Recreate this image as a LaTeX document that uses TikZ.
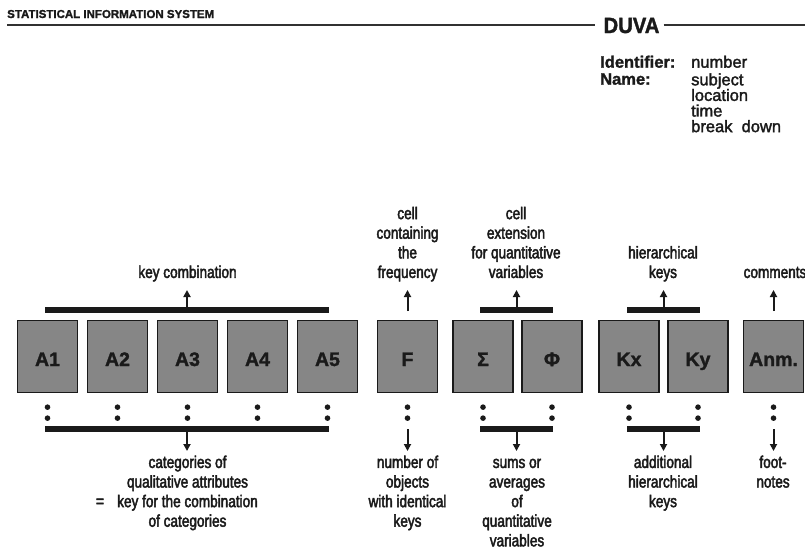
\documentclass[tikz,border=0pt]{standalone}
\usepackage{fontspec}
\setmainfont{Liberation Sans}
\newfontfamily\condfont{Liberation Sans}[FakeStretch=0.8,FakeBold=2.5]
\newfontfamily\plainfont{Liberation Sans}[FakeBold=2]
\newfontfamily\heavyfont{Liberation Sans}[FakeBold=1.5]
\newfontfamily\duvafont{Liberation Sans}[FakeStretch=0.92,FakeBold=1.5]
\usetikzlibrary{arrows.meta}
\definecolor{ink}{HTML}{1A1A1A}
\definecolor{boxgray}{HTML}{868686}
\begin{document}
\begin{tikzpicture}[x=1pt,y=-1pt,
  cellbox/.style={draw=ink, line width=1.3pt, fill=boxgray, minimum width=60pt, minimum height=72pt,
    inner sep=0pt, text height=19pt, text depth=0pt, text=ink,
    font=\heavyfont\bfseries\fontsize{19.5}{20}\selectfont},
  lbl/.style={font=\condfont\fontsize{17}{19.6}\selectfont, align=center, inner sep=0pt, text=ink},
  barbox/.style={fill=ink, inner sep=0pt, minimum height=6pt},
  arr/.style={line width=2pt, draw=ink, -{Triangle[width=7pt,length=7pt]}},
  rule/.style={line width=1.3pt, draw=ink!90},
  dotmark/.style={fill=ink}]
\useasboundingbox[fill=white] (0,0) rectangle (805,549);

% header
\node[anchor=base west, inner sep=0pt, text=ink, font=\heavyfont\bfseries\fontsize{11.5}{12}\selectfont] (hdr) at (7,18) {STATISTICAL INFORMATION SYSTEM};
\node[anchor=base, inner sep=0pt, text=ink, font=\duvafont\bfseries\fontsize{22}{22}\selectfont] (duva) at (631.5,33) {DUVA};
\coordinate (hl) at (7,25);
\coordinate (hr) at (805,25);
\draw[rule, shorten >=8pt] (hl) -- (hl -| duva.west);
\draw[rule, shorten <=4pt] (hl -| duva.east) -- (hr);

% identifier block
\node[anchor=north west, inner sep=0pt, align=left, text=ink, font=\heavyfont\bfseries\fontsize{16.5}{15.6}\selectfont] (idl) at (600,55.5) {\strut Identifier:\\Name:};
\node[anchor=north west, inner sep=0pt, align=left, text=ink, font=\plainfont\fontsize{16.5}{15.6}\selectfont] (idv) at (691,55.5) {\strut number\\subject\\location\\time\\break\ \ down};

% cells
\node[cellbox] (A1) at (47.5,356.5) {A1};
\node[cellbox] (A2) at (117.5,356.5) {A2};
\node[cellbox] (A3) at (187.5,356.5) {A3};
\node[cellbox] (A4) at (257.5,356.5) {A4};
\node[cellbox] (A5) at (327.5,356.5) {A5};
\node[cellbox] (F) at (407.5,356.5) {F};
\node[cellbox] (S) at (483,356.5) {Σ};
\node[cellbox] (P) at (552,356.5) {Φ};
\node[cellbox] (Kx) at (629,356.5) {Kx};
\node[cellbox] (Ky) at (698,356.5) {Ky};
\node[cellbox] (An) at (773.5,356.5) {Anm.};

% dots
\foreach \c in {A1,A2,A3,A4,A5,F,S,P,Kx,Ky,An}{
  \fill[dotmark] (\c.south) ++(0,14) circle (2.8pt);
  \fill[dotmark] (\c.south) ++(0,25) circle (2.8pt);
}

% upper bars and arrows
\node[barbox, minimum width=284pt] (barAu) at (187,310) {};
\node[barbox, minimum width=73pt] (barSu) at (516.5,310) {};
\node[barbox, minimum width=73pt] (barKu) at (663.5,310) {};
\coordinate (tipA) at (187,290);
\coordinate (tipS) at (516.5,290);
\coordinate (tipK) at (663.5,290);
\coordinate (baseF) at (407.5,311);
\coordinate (tipF) at (407.5,290);
\coordinate (baseN) at (773.5,311);
\coordinate (tipN) at (773.5,290);
\draw[arr] (barAu.north) -- (tipA);
\draw[arr] (barSu.north) -- (tipS);
\draw[arr] (barKu.north) -- (tipK);
\draw[arr] (baseF) -- (tipF);
\draw[arr] (baseN) -- (tipN);

% lower bars and arrows
\node[barbox, minimum width=284pt] (barAl) at (187,429) {};
\node[barbox, minimum width=73pt] (barSl) at (516.5,429) {};
\node[barbox, minimum width=73pt] (barKl) at (663.5,429) {};
\coordinate (ltipA) at (187,451);
\coordinate (ltipS) at (516.5,451);
\coordinate (ltipK) at (663.5,451);
\coordinate (lbaseF) at (407.5,429);
\coordinate (ltipF) at (407.5,451);
\coordinate (lbaseN) at (773.5,429);
\coordinate (ltipN) at (773.5,451);
\draw[arr] (barAl.south) -- (ltipA);
\draw[arr] (barSl.south) -- (ltipS);
\draw[arr] (barKl.south) -- (ltipK);
\draw[arr] (lbaseF) -- (ltipF);
\draw[arr] (lbaseN) -- (ltipN);

% upper labels
\node[lbl, anchor=south] (tkc) at (187.5,284) {key combination\strut};
\node[lbl, anchor=south] (tFu) at (407.5,284) {cell\\containing\\the\\frequency\strut};
\node[lbl, anchor=south] (tSu) at (516,284) {cell\\extension\\for quantitative\\variables\strut};
\node[lbl, anchor=south] (tKu) at (663,284) {hierarchical\\keys\strut};
\node[lbl, anchor=south] (tNu) at (775,284) {comments\strut};

% lower labels
\node[lbl, anchor=north] (tAl) at (187.5,454) {\strut categories of\\qualitative attributes\\key for the combination\\of categories};
\node[lbl, anchor=base] (teq) at (100,506.9) {=};
\node[lbl, anchor=north] (tFl) at (407.5,454) {\strut number of\\objects\\with identical\\keys};
\node[lbl, anchor=north] (tSl) at (517,454) {\strut sums or\\averages\\of\\quantitative\\variables};
\node[lbl, anchor=north] (tKl) at (663,454) {\strut additional\\hierarchical\\keys};
\node[lbl, anchor=north] (tNl) at (773,454) {\strut foot-\\notes};
\end{tikzpicture}
\end{document}
